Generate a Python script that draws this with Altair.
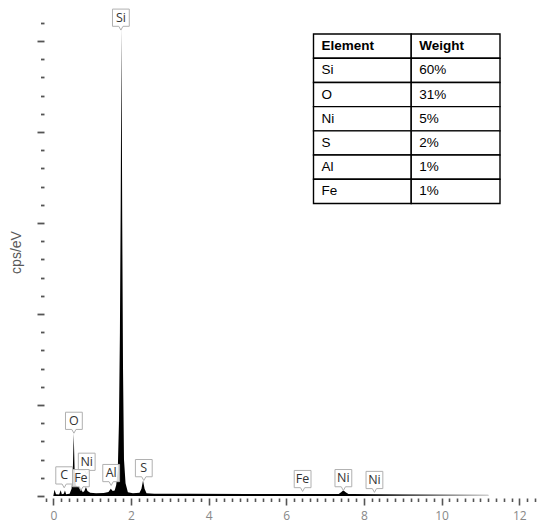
import altair as alt
import pandas as pd

# ---- spectrum (keV, counts in axis units) ----
energy = [0.00, 0.03, 0.07, 0.15, 0.19, 0.22, 0.27, 0.30, 0.33, 0.42, 0.47, 0.50, 0.525, 0.55,
          0.58, 0.63, 0.68, 0.72, 0.76, 0.80, 0.84, 0.88, 0.95, 1.10, 1.30, 1.42, 1.48, 1.53,
          1.58, 1.62, 1.66, 1.69, 1.715, 1.735, 1.755, 1.775, 1.795, 1.82, 1.86, 1.92, 2.05,
          2.22, 2.27, 2.31, 2.35, 2.40, 2.60, 3.50, 5.00, 6.50, 7.35, 7.42, 7.47, 7.52, 7.60,
          9.00, 11.20, 11.22]
counts = [0.00, 0.35, 0.10, 0.08, 0.32, 0.10, 0.12, 0.30, 0.10, 0.12, 0.40, 1.20, 3.45, 1.30,
          0.60, 0.50, 0.55, 0.35, 0.20, 0.28, 0.50, 0.28, 0.18, 0.15, 0.17, 0.22, 0.40, 0.28,
          0.30, 0.60, 1.40, 4.00, 9.00, 16.0, 25.8, 15.0, 7.00, 2.00, 0.70, 0.20, 0.15,
          0.18, 0.40, 0.85, 0.40, 0.15, 0.13, 0.12, 0.11, 0.11, 0.11, 0.22, 0.32, 0.22, 0.11,
          0.10, 0.08, 0.00]

# ---- peak labels ----
lab_text = ["Si", "O", "Ni", "C", "Fe", "Al", "S", "Fe", "Ni", "Ni"]
lab_energy = [1.74, 0.53, 0.86, 0.28, 0.71, 1.49, 2.33, 6.42, 7.47, 8.27]
lab_height = [25.6, 3.45, 1.2, 0.45, 0.3, 0.58, 0.85, 0.25, 0.3, 0.2]

# ---- composition table ----
tbl_header = ["Element", "Weight"]
tbl_elements = ["Si", "O", "Ni", "S", "Al", "Fe"]
tbl_weights = ["60%", "31%", "5%", "2%", "1%", "1%"]

# ---- axis ticks ----
x_ticks = [round(-0.2 + 0.2 * i, 1) for i in range(64)]
y_ticks = list(range(0, 27))

W, H = 498, 488
XDOM = [-0.24, -0.24 + W / 38.83]
YDOM = [0, H / 18.2]

spec = pd.DataFrame({"keV": energy, "cps": counts})
labels = pd.DataFrame({"t": lab_text, "keV": lab_energy, "cps": lab_height})

xs = alt.Scale(domain=XDOM, nice=False, zero=False)
ys = alt.Scale(domain=YDOM, nice=False, zero=False)

x_axis = alt.Axis(
    values=x_ticks, title=None, domain=False, grid=False, offset=2,
    tickSize={"condition": {"test": "datum.value % 2 === 0", "value": 7}, "value": 3.5},
    tickWidth=1.6, tickColor="#555",
    labelExpr="datum.value % 2 === 0 ? toString(datum.value) : ''",
    labelOverlap=False, labelFlush=False, labelPadding=5,
    labelFont="Open Sans", labelFontSize=12, labelColor="#888",
)
y_axis = alt.Axis(
    values=y_ticks, title="cps/eV", domain=False, grid=False, labels=False,
    tickSize={"condition": {"test": "datum.value % 5 === 0", "value": 7}, "value": 3.5},
    tickWidth=1.8, tickColor="#555",
    titleFont="Liberation Sans", titleFontSize=14, titleFontWeight="normal",
    titleColor="#595959", titlePadding=13,
)

X = alt.X("keV:Q", scale=xs, axis=x_axis)
Y = alt.Y("cps:Q", scale=ys, axis=y_axis)

grad = alt.Gradient(
    gradient="linear", x1=0, x2=1, y1=0, y2=0,
    stops=[alt.GradientStop(offset=0, color="black"),
           alt.GradientStop(offset=0.70, color="black"),
           alt.GradientStop(offset=0.85, color="#666"),
           alt.GradientStop(offset=1, color="#cfcfcf")],
)

area = alt.Chart(spec).mark_area(color=grad, interpolate="linear", clip=True).encode(x=X, y=Y)

box_path = "M-0.8,-1 L0.8,-1 L0.8,0.64 L0.2,0.64 L0,1 L-0.2,0.64 L-0.8,0.64 Z"
boxes = alt.Chart(labels).mark_point(
    shape=box_path, size=441, filled=True, fill="white", fillOpacity=0.85,
    stroke="#b0b0b0", strokeWidth=1, strokeOpacity=1, opacity=1, yOffset=-10.5,
).encode(x=X, y=Y)

btext = alt.Chart(labels).mark_text(
    font="Open Sans", fontSize=12.5, color="#333", dy=-12.5, baseline="middle", align="center",
).encode(x=X, y=Y, text="t:N")

# table
rows = []
all_rows = [tbl_header] + [[e, w] for e, w in zip(tbl_elements, tbl_weights)]
col_edges = [0, 0.524, 1]
for r, row in enumerate(all_rows):
    for c, txt in enumerate(row):
        rows.append({"x0": col_edges[c], "x1": col_edges[c + 1], "r0": r, "r1": r + 1,
                     "rm": r + 0.5, "txt": txt, "hdr": "yes" if r == 0 else "no"})
tdf = pd.DataFrame(rows)
tx = alt.Scale(domain=[0, 1], range=[269.5, 456], nice=False, zero=False)
ty = alt.Scale(domain=[0, 7], range=[26, 195.5], nice=False, zero=False)
TX = alt.X("x0:Q", scale=tx, axis=None)

cells = alt.Chart(tdf).mark_rect(fill="white", stroke="black", strokeWidth=1.4).encode(
    x=TX, x2="x1:Q",
    y=alt.Y("r0:Q", scale=ty, axis=None), y2="r1:Q",
)
ttext_h = alt.Chart(tdf).transform_filter("datum.hdr == 'yes'").mark_text(
    align="left", baseline="middle", dx=8, font="Liberation Sans", fontSize=13.5,
    color="black", fontWeight="bold",
).encode(x=TX, y=alt.Y("rm:Q", scale=ty, axis=None), text="txt:N")
ttext_b = alt.Chart(tdf).transform_filter("datum.hdr == 'no'").mark_text(
    align="left", baseline="middle", dx=8, font="Liberation Sans", fontSize=13.5,
    color="black",
).encode(x=TX, y=alt.Y("rm:Q", scale=ty, axis=None), text="txt:N")

main = alt.layer(area, boxes, btext)
table = alt.layer(cells, ttext_h, ttext_b)

chart = alt.layer(main, table).resolve_scale(x="independent", y="independent").properties(
    width=W, height=H,
    padding={"left": 36, "top": 0, "right": 0, "bottom": 31},
    autosize=alt.AutoSizeParams(type="none"),
).configure_view(stroke=None)

chart.save("out.html", embed_options={"renderer": "svg", "actions": False})
